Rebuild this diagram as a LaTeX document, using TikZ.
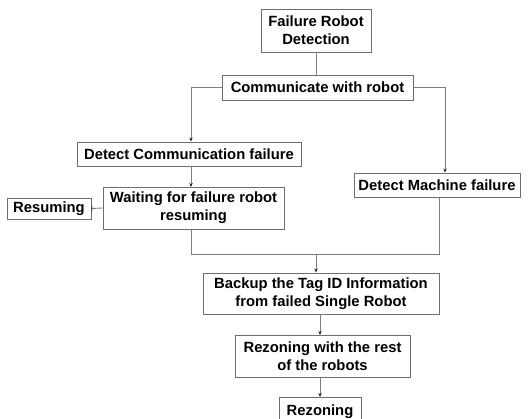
\documentclass[tikz,border=0pt]{standalone}
\usepackage{fontspec}
\setmainfont{Liberation Sans}
\usetikzlibrary{arrows.meta}
\definecolor{linegray}{RGB}{125,125,125}
\definecolor{boxgray}{RGB}{110,110,110}
\begin{document}
\begin{tikzpicture}[x=1pt,y=-1pt,
  box/.style={draw=boxgray,line width=0.9pt,fill=white,inner sep=0pt,align=center,
    font=\fontsize{14.8}{18}\selectfont\bfseries,text=black},
  conn/.style={draw=linegray,line width=0.9pt},
  arr/.style={conn,-{Stealth[length=4pt,width=3.5pt,black!85]}},
  tick/.style={conn,-{Bar[width=5pt,black!70]}}]
\useasboundingbox (0,0) rectangle (531,419);
\fill[white] (0,0) rectangle (531,419);
\node[box,minimum width=110pt,minimum height=43pt] (fr) at (316,30.5) {Failure Robot\\Detection};
\node[box,minimum width=191pt,minimum height=25pt] (comm) at (317.5,87.5) {Communicate with robot};
\node[box,minimum width=224pt,minimum height=24pt] (dcf) at (189,154) {Detect Communication failure};
\node[box,minimum width=181pt,minimum height=42pt] (wait) at (193.5,208) {Waiting for failure robot\\resuming};
\node[box,minimum width=84pt,minimum height=21pt] (res) at (49,208.5) {Resuming};
\node[box,minimum width=166pt,minimum height=24pt] (dmf) at (437,185) {Detect Machine failure};
\node[box,minimum width=236pt,minimum height=41pt] (backup) at (321,293.5) {Backup the Tag ID Information\\from failed Single Robot};
\node[box,minimum width=175pt,minimum height=42pt] (rez2) at (322.5,356) {Rezoning with the rest\\of the robots};
\node[box,minimum width=82pt,minimum height=28pt,anchor=north] (rez) at (320,397) {\raisebox{3pt}{Rezoning}};
\coordinate (cl) at (191,87.5);
\coordinate (cr) at (445,87.5);
\coordinate (jl) at (191,254);
\coordinate (jr) at (439,254);
\coordinate (j) at (316,254);
\draw[conn] (fr.south -| 316,0) -- (316,75);
\draw[arr] (comm.west) -- (cl) -- (cl |- dcf.north);
\draw[arr] (comm.east) -- (cr) -- (cr |- dmf.north);
\draw[arr] (191,166) -- (191,187);
\draw[tick] (wait.west) -- (res.east);
\draw[conn] (jl |- wait.south) -- (jl) -- (jr) -- (jr |- dmf.south);
\draw[arr] (j) -- (j |- backup.north);
\draw[arr] (320,314) -- (320,335);
\draw[arr] (320,377) -- (320,397);
\end{tikzpicture}
\end{document}
